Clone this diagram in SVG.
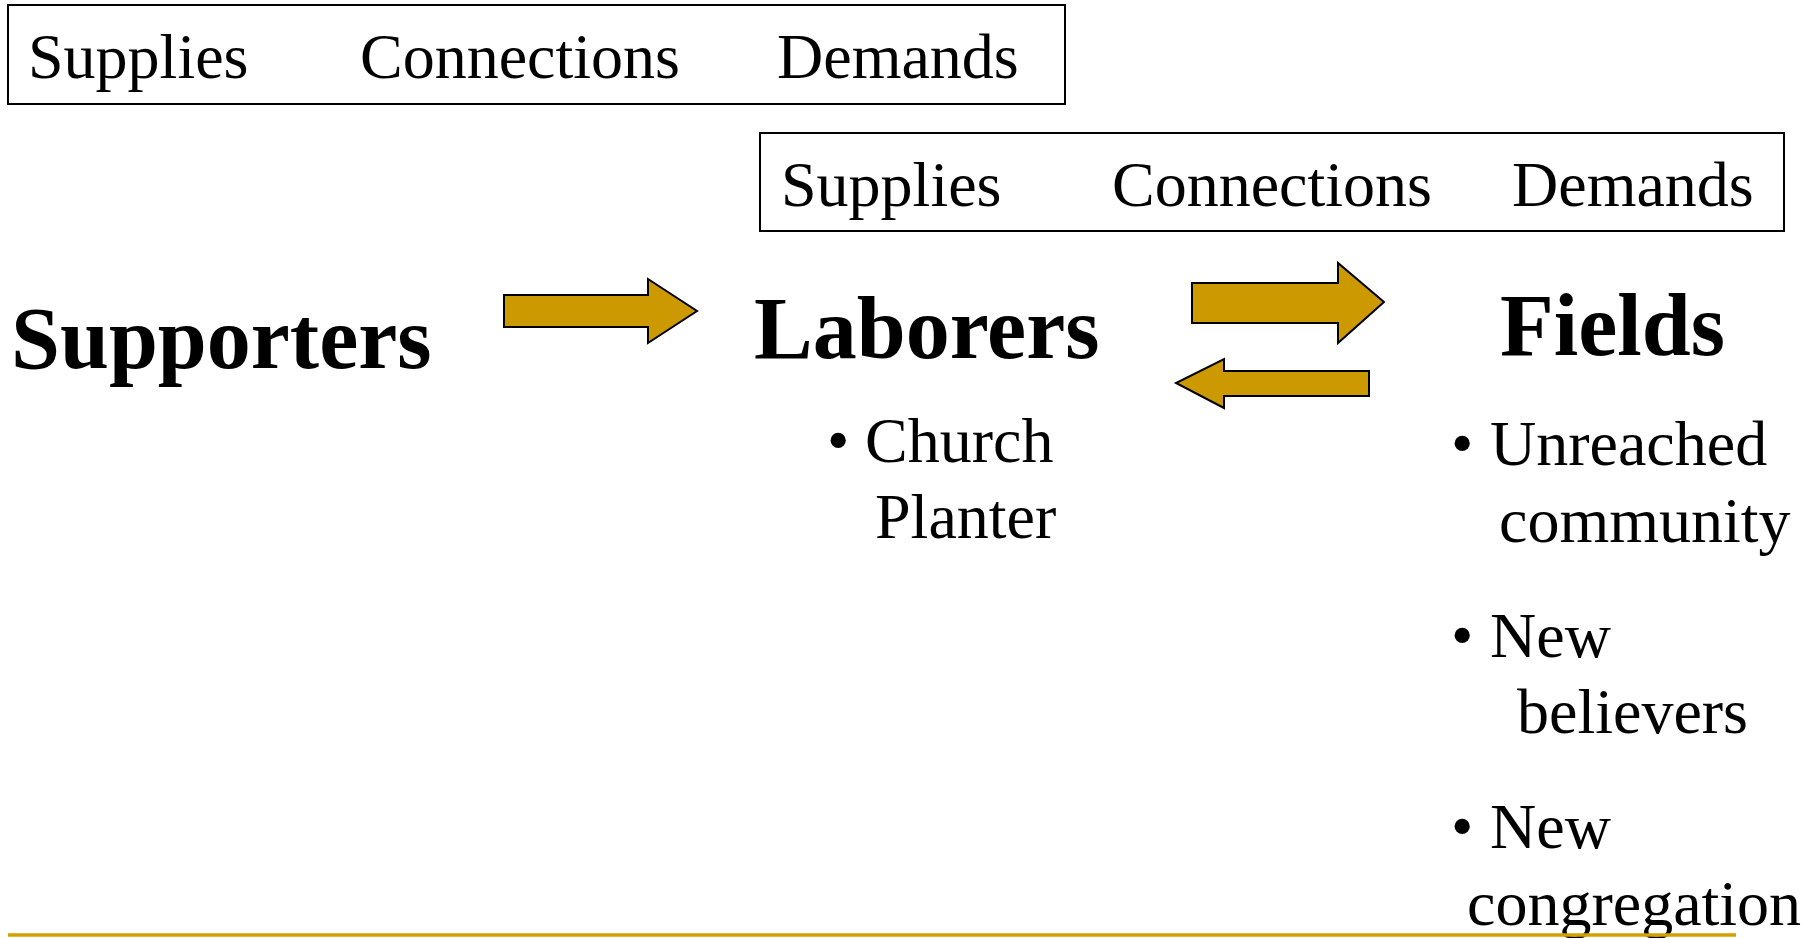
<svg xmlns="http://www.w3.org/2000/svg" width="1807" height="938" viewBox="0 0 1807 938">
<style>
.box{fill:#fff;stroke:#000;stroke-width:2}
.t{font-family:"Liberation Serif","Times New Roman",serif;font-size:64px;fill:#000}
.b{font-family:"Liberation Serif","Times New Roman",serif;font-size:88px;font-weight:bold;fill:#000}
.arr{fill:#CC9900;stroke:#000;stroke-width:2;stroke-linejoin:miter}
</style>
<rect width="1807" height="938" fill="#fff"/>
<g id="legend1">
<rect class="box" x="8" y="5" width="1057" height="99"/>
<text class="t" x="28" y="78">Supplies</text>
<text class="t" x="360" y="78">Connections</text>
<text class="t" x="777" y="78">Demands</text>
</g>
<g id="legend2">
<rect class="box" x="760" y="133" width="1024" height="98"/>
<text class="t" x="781" y="206">Supplies</text>
<text class="t" x="1112" y="206">Connections</text>
<text class="t" x="1512" y="206">Demands</text>
</g>
<g id="supporters">
<text class="b" x="11" y="368">Supporters</text>
</g>
<g id="laborers">
<text class="b" x="754" y="358">Laborers</text>
<text class="t" x="827" y="462">•</text>
<text class="t" x="865" y="462">Church</text>
<text class="t" x="875" y="538">Planter</text>
</g>
<g id="fields">
<text class="b" x="1500" y="355">Fields</text>
<text class="t" x="1451" y="465">•</text>
<text class="t" x="1490" y="465">Unreached</text>
<text class="t" x="1499" y="542">community</text>
<text class="t" x="1451" y="657">•</text>
<text class="t" x="1490" y="657">New</text>
<text class="t" x="1517" y="733">believers</text>
<text class="t" x="1451" y="848">•</text>
<text class="t" x="1490" y="848">New</text>
<text class="t" x="1467" y="925">congregation</text>
</g>
<g id="connectors">
<polygon class="arr" points="504,295 648,295 648,279 697,311 648,343 648,327 504,327"/>
<polygon class="arr" points="1192,283 1338,283 1338,263 1384,302 1338,343 1338,323 1192,323"/>
<polygon class="arr" points="1369,371 1224,371 1224,359 1176,383 1224,408 1224,396 1369,396"/>
</g>
<line x1="8" y1="935" x2="1736" y2="935" stroke="#D4A000" stroke-width="3.5"/>
</svg>
